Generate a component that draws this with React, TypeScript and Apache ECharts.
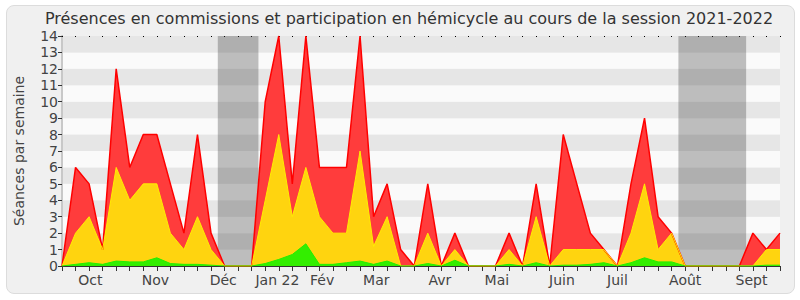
import React, { useEffect, useRef } from "react";
import * as echarts from "echarts";

const TITLE = "Présences en commissions et participation en hémicycle au cours de la session 2021-2022";
const Y_NAME = "Séances par semaine";

// weekly values (week 0 .. 53)
const totalWeek = [0, 6, 5, 1, 12, 6, 8, 8, 5, 2, 8, 2, 0, 0, 0, 10, 14, 5, 14, 6, 6, 6, 14, 3, 5, 1, 0, 5, 0, 2, 0, 0, 0, 2, 0, 5, 0, 8, 5, 2, 1, 0, 5, 9, 3, 2, 0, 0, 0, 0, 0, 2, 1, 2];
const hemicycleWeek = [0, 2, 3, 1, 6, 4, 5, 5, 2, 1, 3, 1, 0, 0, 0, 4, 8, 3, 6, 3, 2, 2, 7, 1.2, 3, 0, 0, 2, 0, 1, 0, 0, 0, 1, 0, 3, 0, 1, 1, 1, 1, 0, 2, 5, 1, 2, 0, 0, 0, 0, 0, 0, 1, 1];
const commissionWeek = [0, 0.1, 0.2, 0.1, 0.3, 0.25, 0.25, 0.5, 0.15, 0.1, 0.1, 0.05, 0, 0, 0, 0.15, 0.4, 0.7, 1.35, 0.1, 0.1, 0.2, 0.3, 0.1, 0.3, 0, 0, 0.15, 0, 0.35, 0, 0, 0, 0.1, 0, 0.2, 0, 0.05, 0.05, 0.1, 0.2, 0, 0.2, 0.5, 0.25, 0.25, 0, 0, 0, 0, 0, 0, 0.05, 0.05];

// month labels and their position (in weeks)
const monthLabels = ["Oct", "Nov", "Déc", "Jan 22", "Fév", "Mar", "Avr", "Mai", "Juin", "Juil", "Août", "Sept"];
const monthPos = [2.1, 6.9, 11.9, 15.9, 19.2, 23.2, 27.9, 32.1, 36.9, 41.0, 46.0, 50.9];

// holiday periods (in weeks)
const holidayStart = [11.5, 45.5];
const holidayEnd = [14.5, 50.5];

const yTicks = [0, 14];

export default function App() {
  const ref = useRef<HTMLDivElement>(null);
  useEffect(() => {
    if (!ref.current) return;
    const chart = echarts.init(ref.current, null, { renderer: "svg" });
    const nWeeks = totalWeek.length - 1;
    const labelMap: Record<number, string> = {};
    monthPos.forEach((p, i) => (labelMap[Math.round(p * 10)] = monthLabels[i]));
    const toPts = (arr: number[]) => arr.map((v, i) => [i, v]);
    const font = "DejaVu Sans";
    chart.setOption({
      animation: false,
      backgroundColor: "transparent",
      title: {
        text: TITLE,
        left: 404,
        textAlign: "center",
        top: 5,
        textStyle: { fontFamily: font, fontSize: 16, fontWeight: "normal", color: "#333" },
      },
      grid: { left: 62, right: 20, top: 36, bottom: 34 },
      xAxis: [
        {
          type: "value",
          position: "bottom",
          min: 0,
          max: nWeeks,
          interval: 1,
          axisLine: { show: true, onZero: false, lineStyle: { color: "#333", width: 1 } },
          axisTick: { show: true, length: 5, lineStyle: { color: "#333" } },
          axisLabel: { show: false },
          splitLine: { show: false },
        },
        {
          type: "value",
          position: "bottom",
          min: 0,
          max: nWeeks,
          interval: 0.1,
          axisLine: { show: false, onZero: false },
          axisTick: { show: false },
          axisLabel: {
            show: true,
            margin: 7,
            fontFamily: font,
            fontSize: 14,
            color: "#444",
            formatter: (v: number) => labelMap[Math.round(v * 10)] || "",
          },
          splitLine: { show: false },
        },
        {
          type: "value",
          position: "top",
          min: 0,
          max: nWeeks,
          interval: 1,
          axisLine: { show: false, onZero: false },
          axisTick: { show: true, inside: true, length: 1, lineStyle: { color: "#000" } },
          axisLabel: { show: false },
          splitLine: { show: false },
        },
      ],
      yAxis: [
        {
          type: "value",
          min: yTicks[0],
          max: yTicks[1],
          interval: 1,
          name: Y_NAME,
          nameLocation: "middle",
          nameGap: 36,
          nameTextStyle: { fontFamily: font, fontSize: 14, color: "#444" },
          axisLine: { show: true, lineStyle: { color: "#333" } },
          axisTick: { show: true, length: 4, lineStyle: { color: "#333" } },
          axisLabel: { fontFamily: font, fontSize: 14, color: "#444", margin: 4 },
          splitLine: { show: false },
          splitArea: { show: true, areaStyle: { color: ["#fafafa", "#e6e6e6"] } },
        },
        {
          type: "value",
          position: "right",
          min: yTicks[0],
          max: yTicks[1],
          interval: 1,
          axisLine: { show: true, lineStyle: { color: "#c8c8c8", width: 2 } },
          axisTick: { show: false },
          axisLabel: { show: false },
          splitLine: { show: false },
        },
      ],
      series: [
        {
          type: "line",
          name: "total",
          data: toPts(totalWeek),
          symbol: "none",
          lineStyle: { color: "#ff0000", width: 1.5 },
          areaStyle: { color: "#ff3c3c", opacity: 1 },
          markArea: {
            silent: true,
            itemStyle: { color: "rgba(50,50,50,0.3)" },
            data: holidayStart.map((s, i) => [{ xAxis: s }, { xAxis: holidayEnd[i] }]),
          },
        },
        {
          type: "line",
          name: "hemicycle",
          data: toPts(hemicycleWeek),
          symbol: "none",
          lineStyle: { color: "#ffee00", width: 1 },
          areaStyle: { color: "#ffd40f", opacity: 1 },
        },
        {
          type: "line",
          name: "commission",
          data: toPts(commissionWeek),
          symbol: "none",
          lineStyle: { color: "#22ee00", width: 1 },
          areaStyle: { color: "#33ee00", opacity: 1 },
        },
      ],
    });
    return () => chart.dispose();
  }, []);
  return (
    <div style={{ position: "fixed", left: 0, top: 0, width: 800, height: 300, background: "#fff" }}>
      <div
        style={{
          position: "absolute",
          left: 6,
          top: 5,
          width: 787,
          height: 287,
          background: "#f0f0f0",
          border: "1px solid #dcdcdc",
          borderRadius: 8,
        }}
      />
      <div ref={ref} style={{ position: "absolute", left: 0, top: 0, width: 800, height: 300 }} />
    </div>
  );
}
